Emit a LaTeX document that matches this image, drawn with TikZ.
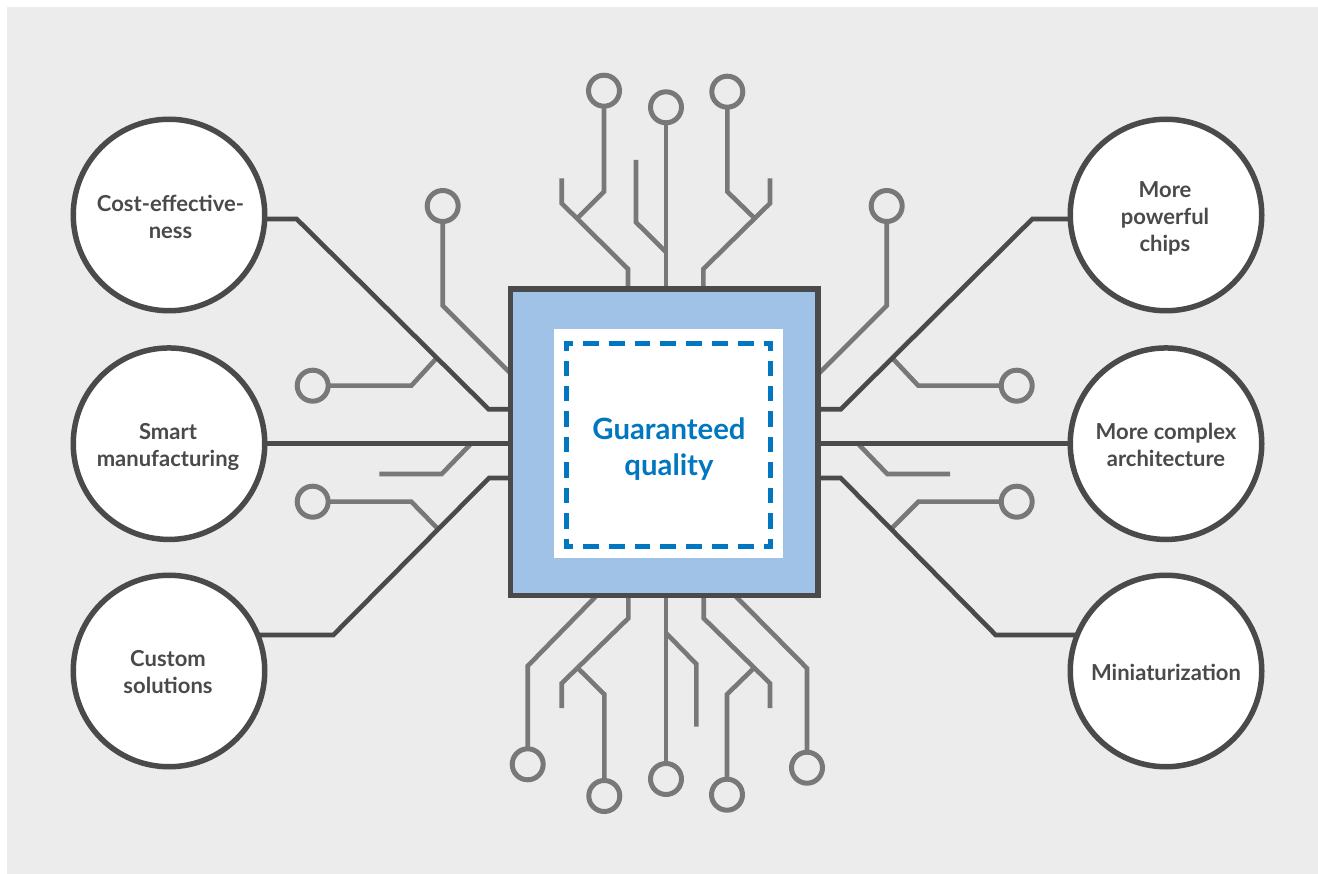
\documentclass[tikz,border=0pt]{standalone}
\usepackage{fontspec}
\setmainfont{Lato}
\usetikzlibrary{calc}
\definecolor{bgc}{HTML}{ECECEC}
\definecolor{darkc}{HTML}{4A4A4A}
\definecolor{grayc}{HTML}{777877}
\definecolor{chipc}{HTML}{A0C2E6}
\definecolor{bluec}{HTML}{0077C0}
\tikzset{
  bigc/.style={circle,draw=darkc,fill=white,line width=5.5pt,minimum size=191.5pt,inner sep=0pt,outer sep=0pt},
  lab/.style={align=center,text=darkc,font=\fontsize{22pt}{27pt}\selectfont\bfseries,inner sep=0pt},
  smallc/.style={circle,draw=grayc,line width=5pt,minimum size=31pt,inner sep=0pt,outer sep=0pt},
  dk/.style={draw=darkc,line width=4.6pt,miter limit=10},
  gr/.style={draw=grayc,line width=4.6pt,miter limit=10},
  dashh/.style={draw=bluec,line width=5pt,dash pattern=on 15.8pt off 10pt,dash phase=6.4pt},
  dashv/.style={draw=bluec,line width=5pt,dash pattern=on 15.44pt off 10pt,dash phase=6.04pt},
}
\begin{document}
\begin{tikzpicture}[x=1pt,y=-1pt]
\useasboundingbox (0,0) rectangle (1318,874);
\fill[white] (0,0) rectangle (1318,874);
\fill[bgc] (7,7) rectangle (1318,874);
% named nodes
\node[smallc] (la) at (442.7,206) {};
\node[smallc] (lb) at (312.7,385.7) {};
\node[smallc] (ld) at (312.7,501.7) {};
\node[smallc] (ra) at (886.7,206) {};
\node[smallc] (rb) at (1016.7,385.7) {};
\node[smallc] (rd) at (1016.7,501.7) {};
\node[smallc] (t1) at (604,90.7) {};
\node[smallc] (t2) at (666,107.3) {};
\node[smallc] (t3) at (727.3,91.7) {};
\node[smallc] (b1) at (527.7,764.3) {};
\node[smallc] (b2) at (604.3,796) {};
\node[smallc] (b3) at (666,779) {};
\node[smallc] (b4) at (727,794.7) {};
\node[smallc] (b5) at (807,767.7) {};
\node[bigc] (c1) at (169,215) {};
\node[bigc] (c2) at (169,443.7) {};
\node[bigc] (c3) at (169,671) {};
\node[bigc] (r1) at (1166,215) {};
\node[bigc] (r2) at (1166,443.7) {};
\node[bigc] (r3) at (1166,671) {};
\coordinate (j1) at (436.7,358);
\coordinate (j2) at (892.3,358);
\coordinate (j3) at (439,530);
\coordinate (j4) at (890,530);
\coordinate (j5) at (471,443.7);
\coordinate (j6) at (858,443.7);
% gray traces
\draw[gr] (la) -- (442.7,305.7) -- (510.5,373.5);
\draw[gr] (lb) -- (411.3,385.7) -- (j1);
\draw[gr] (379.3,474) -- (441.7,474) -- (j5);
\draw[gr] (ld) -- (411.3,501.7) -- (j3);
\draw[gr] (ra) -- (886.7,305.7) -- (818,374.4);
\draw[gr] (rb) -- (918.3,385.7) -- (j2);
\draw[gr] (950,474) -- (887.3,474) -- (j6);
\draw[gr] (rd) -- (918.3,501.7) -- (j4);
% top
\draw[gr] (t1) -- (604,191.7) -- (578.3,217.4);
\draw[gr] (628,289) -- (628,269) -- (561.7,203.3) -- (561.7,178.3);
\draw[gr] (t2) -- (666,289);
\draw[gr] (636,160) -- (636,222.3) -- (666,252);
\draw[gr] (t3) -- (727.3,191.7) -- (753.7,217.4);
\draw[gr] (703.3,289) -- (703.3,269) -- (770,203.3) -- (770,178.3);
% bottom
\draw[gr] (596.7,595.5) -- (527.7,666) -- (b1);
\draw[gr] (628.3,595.5) -- (628.3,618.3) -- (561.7,683.3) -- (561.7,708);
\draw[gr] (577.7,668) -- (604.3,694.3) -- (b2);
\draw[gr] (666,595.5) -- (b3);
\draw[gr] (666,633) -- (696.3,664) -- (696.3,726.7);
\draw[gr] (703.7,595.5) -- (703.7,618.3) -- (770,683.3) -- (770,708);
\draw[gr] (754,668) -- (727,694.3) -- (b4);
\draw[gr] (735,595.5) -- (807,668.3) -- (b5);
% dark traces
\draw[dk] ($(c1.center)+(95,4)$) -- (296.7,219) -- (488.7,409.3) -- (510.5,409.3);
\draw[dk] (c2.east) -- (510.5,443.7);
\draw[dk] ($(c3.center)+(88,-36)$) -- (333.3,635) -- (489,478) -- (510.5,478);
\draw[dk] ($(r1.center)+(-95,4)$) -- (1032.3,219) -- (840.7,409.3) -- (818,409.3);
\draw[dk] (r2.west) -- (818,443.7);
\draw[dk] ($(r3.center)+(-88,-36)$) -- (995.7,635) -- (840.7,478) -- (818,478);
% chip
\node[draw=darkc,fill=chipc,line width=5.5pt,minimum width=307.5pt,minimum height=306.5pt,inner sep=0pt,outer sep=0pt] (chip) at (664.25,442.25) {};
\node[fill=white,minimum width=229pt,minimum height=228.7pt,inner sep=0pt,outer sep=0pt] (core) at (668.5,443.35) {};
\draw[dashh] (563.5,343.7) -- (773.2,343.7);
\draw[dashh] (563.5,546) -- (773.2,546);
\draw[dashv] (566,341.2) -- (566,548.5);
\draw[dashv] (770.7,341.2) -- (770.7,548.5);
% labels
\node[align=center,text=bluec,font=\fontsize{29.3pt}{36.5pt}\selectfont\bfseries,inner sep=0pt] (gq) at (669,449) {Guaranteed\\quality};
\node[lab] (tc1) at ($(c1)+(1.5,2)$) {Cost-effective-\\ness};
\node[lab] (tc2) at ($(c2)+(-1,3)$) {Smart\\manufacturing};
\node[lab] (tc3) at ($(c3)+(-1,1)$) {Custom\\solutions};
\node[lab] (tr1) at ($(r1)+(-1,3.5)$) {More\\powerful\\chips};
\node[lab] (tr2) at ($(r2)+(0,1)$) {More complex\\architecture};
\node[lab] (tr3) at ($(r3)+(0,1)$) {Miniaturization};
\end{tikzpicture}
\end{document}
